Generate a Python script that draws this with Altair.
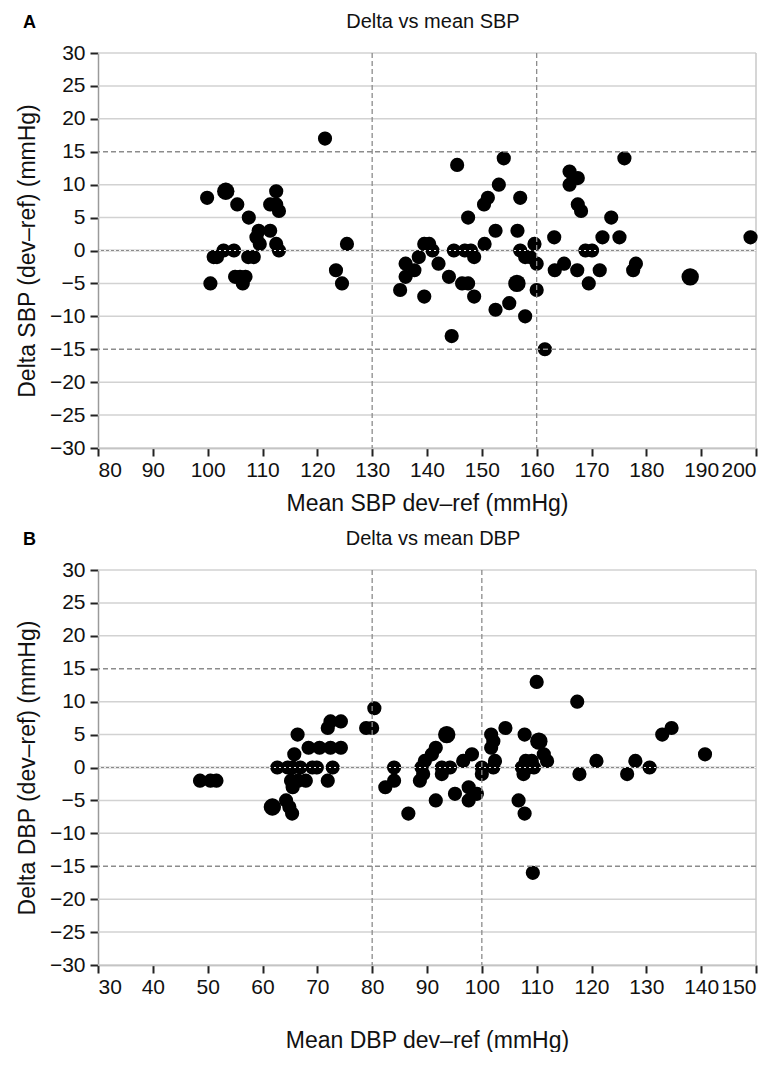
import altair as alt
import pandas as pd

F = "Liberation Sans"

# ---- Panel A: SBP ----
sbp_mean = [99.9, 103.3, 105.4, 107.5, 109.3, 108.9, 109.5, 111.4, 112.5, 111.4, 112.5, 113.0, 112.5, 113.0,
            102.9, 104.8, 101.7, 101.1, 107.4, 108.4, 100.5, 105.0, 105.9, 106.9, 106.4, 125.4, 123.4, 124.5, 121.4,
            145.5, 154.0, 153.1, 151.1, 150.4, 157.0, 147.5, 152.5, 156.5, 150.5, 159.6, 139.5, 140.4, 141.0,
            144.9, 146.9, 148.0, 148.6, 157.0, 157.9, 158.8, 160.0, 138.5, 136.1, 142.1, 137.7, 136.1, 144.0,
            135.1, 139.5, 146.4, 147.5, 148.6, 156.4, 160.0, 152.5, 155.0, 157.9, 144.5, 161.5, 163.2, 163.3,
            176.0, 166.0, 167.5, 166.0, 167.5, 168.1, 173.6, 172.0, 175.1, 199.0, 168.9, 170.1, 165.0, 167.4,
            171.5, 169.5, 178.1, 177.6, 188.0]
sbp_delta = [8, 9, 7, 5, 3, 2, 1, 3, 9, 7, 7, 6, 1, 0,
             0, 0, -1, -1, -1, -1, -5, -4, -4, -4, -5, 1, -3, -5, 17,
             13, 14, 10, 8, 7, 8, 5, 3, 3, 1, 1, 1, 1, 0,
             0, 0, 0, -1, 0, -1, -1, -2, -1, -2, -2, -3, -4, -4,
             -6, -7, -5, -5, -7, -5, -6, -9, -8, -10, -13, -15, 2, -3,
             14, 12, 11, 10, 7, 6, 5, 2, 2, 2, 0, 0, -2, -3,
             -3, -5, -2, -3, -4]
sbp_n = [1, 2, 1, 1, 1, 1, 1, 1, 1, 1, 1, 1, 1, 1,
         1, 1, 1, 1, 1, 1, 1, 1, 1, 1, 1, 1, 1, 1, 1,
         1, 1, 1, 1, 1, 1, 1, 1, 1, 1, 1, 1, 1, 1,
         1, 1, 1, 1, 1, 1, 1, 1, 1, 1, 1, 1, 1, 1,
         1, 1, 1, 1, 1, 2, 1, 1, 1, 1, 1, 1, 1, 1,
         1, 1, 1, 1, 1, 1, 1, 1, 1, 1, 1, 1, 1, 1,
         1, 1, 1, 1, 2]

# ---- Panel B: DBP ----
dbp_mean = [48.6, 50.5, 51.6, 61.8, 64.3, 64.9, 65.4, 62.7, 64.6, 65.5, 66.9, 69.1, 69.9, 72.8,
            65.2, 66.5, 67.9, 65.5, 71.9, 65.8, 66.4, 68.4, 70.4, 72.4, 74.3, 71.9, 72.4, 74.3,
            78.9, 80.0, 80.4, 84.0, 84.0, 82.4, 86.6, 88.7, 89.3, 89.0, 89.6, 90.9, 91.6, 92.7,
            94.2, 92.7, 91.6, 93.6, 95.1, 96.6, 98.2, 97.6, 97.6, 99.1, 100.0, 100.0, 101.7, 102.1,
            101.7, 104.3, 102.4, 102.1, 107.8, 110.4, 111.3, 111.9, 109.1, 108.0, 107.3, 108.4, 109.5,
            107.6, 106.7, 107.8, 109.3, 110.0, 117.4, 117.8, 120.9, 126.5, 128.0, 130.6, 132.9, 134.6, 140.7]
dbp_delta = [-2, -2, -2, -6, -5, -6, -7, 0, 0, 0, 0, 0, 0, 0,
             -2, -2, -2, -3, -2, 2, 5, 3, 3, 3, 3, 6, 7, 7,
             6, 6, 9, 0, -2, -3, -7, -2, -1, 0, 1, 2, 3, 0,
             0, -1, -5, 5, -4, 1, 2, -3, -5, -4, 0, -1, 5, 4,
             3, 6, 1, 0, 5, 4, 2, 1, 1, 1, 0, 0, 0,
             -1, -5, -7, -16, 13, 10, -1, 1, -1, 1, 0, 5, 6, 2]
dbp_n = [1, 1, 1, 2, 1, 1, 1, 1, 1, 1, 1, 1, 1, 1,
         1, 1, 1, 1, 1, 1, 1, 1, 1, 1, 1, 1, 1, 1,
         1, 1, 1, 1, 1, 1, 1, 1, 1, 1, 1, 1, 1, 1,
         1, 1, 1, 2, 1, 1, 1, 1, 1, 1, 1, 1, 1, 1,
         1, 1, 1, 1, 1, 2, 1, 1, 1, 1, 1, 1, 1,
         1, 1, 1, 1, 1, 1, 1, 1, 1, 1, 1, 1, 1, 1]

grid_levels = [-30, -25, -20, -10, -5, 5, 10, 20, 25, 30]
limit_levels = [-15, 15]

W, H = 658, 395


def panel(means, deltas, counts, xdom, vlines, xlabel, ylabel, title, letter, xtitle_pad):
    df = pd.DataFrame({"mean": means, "delta": deltas, "n": counts})
    x_enc = alt.X("mean:Q", scale=alt.Scale(domain=xdom, nice=False, zero=False),
                  axis=alt.Axis(values=list(range(xdom[0], xdom[1] + 1, 10)), title=xlabel, grid=False,
                                labelPadding=3, titlePadding=xtitle_pad))
    y_enc = alt.Y("delta:Q", scale=alt.Scale(domain=[-30, 30], nice=False),
                  axis=alt.Axis(values=list(range(-30, 31, 5)), title=ylabel, grid=False,
                                labelPadding=5, titlePadding=10))

    grid = alt.Chart(pd.DataFrame({"delta": grid_levels})).mark_rule(
        color="#d2d2d2", strokeWidth=1.5).encode(y=y_enc)
    right = alt.Chart(pd.DataFrame({"mean": [xdom[1]]})).mark_rule(
        color="#c8c8c8", strokeWidth=1.5).encode(x=x_enc)
    zero = alt.Chart(pd.DataFrame({"delta": [0]})).mark_rule(
        color="#8a8a8a", strokeWidth=1.6).encode(y=y_enc)
    halo = alt.Chart(df).mark_circle(color="#6a6a6a", opacity=0.35).encode(
        x=x_enc, y=y_enc,
        size=alt.Size("n:Q", scale=alt.Scale(domain=[1, 2], range=[200, 300]), legend=None))
    pts = alt.Chart(df).mark_circle(color="#000000", opacity=1).encode(
        x=x_enc, y=y_enc,
        size=alt.Size("n:Q", scale=alt.Scale(domain=[1, 2], range=[105, 175]), legend=None))
    zero_over = alt.Chart(pd.DataFrame({"delta": [0]})).mark_rule(
        color="#ffffff", strokeWidth=1, strokeDash=[2, 3], opacity=0.9).encode(y=y_enc)
    hdash = alt.Chart(pd.DataFrame({"delta": limit_levels})).mark_rule(
        color="#8c8c8c", strokeWidth=1.3, strokeDash=[5, 3]).encode(y=y_enc)
    vdash = alt.Chart(pd.DataFrame({"mean": vlines})).mark_rule(
        color="#8c8c8c", strokeWidth=1.3, strokeDash=[5, 3]).encode(x=x_enc)
    lab = alt.Chart(pd.DataFrame({"t": [letter]})).mark_text(
        font=F, fontSize=18, fontWeight="bold", align="left", baseline="middle", color="#000"
    ).encode(text="t:N", x=alt.value(-75), y=alt.value(-30))
    ttl = alt.Chart(pd.DataFrame({"t": [title]})).mark_text(
        font=F, fontSize=20, fontWeight="normal", align="center", baseline="middle", color="#111"
    ).encode(text="t:N", x=alt.value(W / 2 + 6), y=alt.value(-31))

    return alt.layer(grid, right, zero, halo, pts, zero_over, hdash, vdash, lab, ttl).properties(
        width=W, height=H)


top = panel(sbp_mean, sbp_delta, sbp_n, [80, 200], [130, 160],
            "Mean SBP dev\u2013ref (mmHg)", "Delta SBP (dev\u2013ref) (mmHg)", "Delta vs mean SBP", "A", 12)
bottom = panel(dbp_mean, dbp_delta, dbp_n, [30, 150], [80, 100],
               "Mean DBP dev\u2013ref (mmHg)", "Delta DBP (dev\u2013ref) (mmHg)", "Delta vs mean DBP", "B", 32)

chart = alt.vconcat(top, bottom, spacing=14).properties(
    padding={"left": 8, "top": 4, "right": 0, "bottom": 0}
).configure_view(stroke=None).configure_axis(
    labelFont=F, titleFont=F, labelFontSize=21, titleFontSize=23, titleFontWeight="normal",
    labelColor="#111", titleColor="#111", domainColor="#9a9a9a", domainWidth=1.5,
    tickColor="#222", tickWidth=2, tickSize=8
)

chart.save("out.html", embed_options={"renderer": "svg", "actions": False})
